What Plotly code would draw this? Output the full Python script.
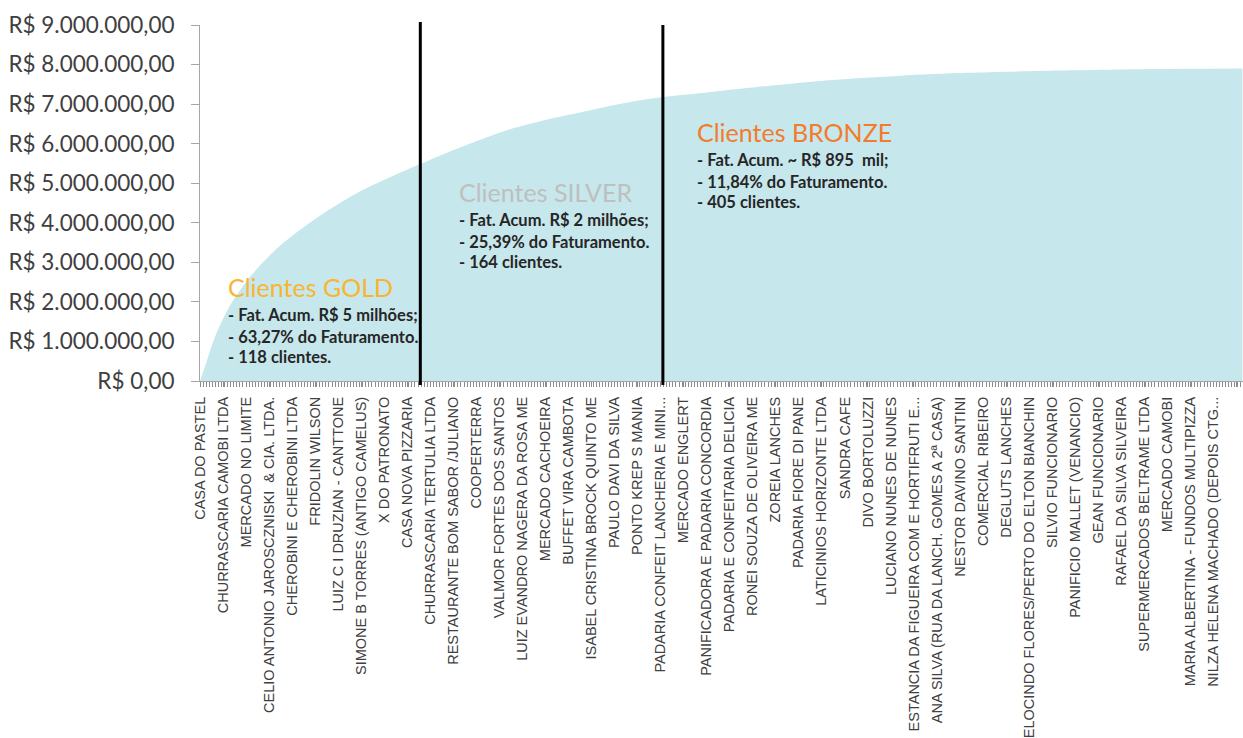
import plotly.graph_objects as go

# ---- data ----
# client rank (0-based, sorted by revenue) and cumulative revenue (R$)
client_rank = [0, 4, 10, 19, 30, 41, 51, 62, 84, 106, 127, 142, 162, 184, 205, 227,
               249, 270, 292, 314, 329, 370, 412, 456, 500, 560, 625, 679]
cum_revenue = [0, 455000, 1140000, 1870000, 2500000, 3000000, 3380000, 3730000,
               4330000, 4830000, 5210000, 5460000, 5790000, 6120000, 6400000, 6620000,
               6800000, 6980000, 7130000, 7230000, 7290000, 7460000, 7610000, 7720000,
               7790000, 7850000, 7890000, 7900000]

client_names = [
    "CASA DO PASTEL", "CHURRASCARIA CAMOBI LTDA", "MERCADO NO LIMITE",
    "CELIO ANTONIO JAROSCZNISKI  & CIA. LTDA.", "CHEROBINI E CHEROBINI LTDA",
    "FRIDOLIN WILSON", "LUIZ C I DRUZIAN - CANTTONE", "SIMONE B TORRES (ANTIGO CAMELUS)",
    "X DO PATRONATO", "CASA NOVA PIZZARIA", "CHURRASCARIA TERTULIA LTDA",
    "RESTAURANTE BOM SABOR /JULIANO", "COOPERTERRA", "VALMOR FORTES DOS SANTOS",
    "LUIZ EVANDRO NAGERA DA ROSA ME", "MERCADO CACHOEIRA", "BUFFET VIRA CAMBOTA",
    "ISABEL CRISTINA BROCK QUINTO ME", "PAULO DAVI DA SILVA", "PONTO KREP S MANIA",
    "PADARIA CONFEIT LANCHERIA E MINI...", "MERCADO ENGLERT",
    "PANIFICADORA E PADARIA CONCORDIA", "PADARIA E CONFEITARIA DELICIA",
    "RONEI SOUZA DE OLIVEIRA ME", "ZOREIA LANCHES", "PADARIA FIORE DI PANE",
    "LATICINIOS HORIZONTE LTDA", "SANDRA CAFE", "DIVO BORTOLUZZI",
    "LUCIANO NUNES DE NUNES", "ESTANCIA DA FIGUEIRA COM E HORTIFRUTI E...",
    "ANA SILVA (RUA DA LANCH. GOMES A 2ª CASA)", "NESTOR DAVINO SANTINI",
    "COMERCIAL RIBEIRO", "DEGLUTS LANCHES", "VELOCINDO FLORES/PERTO DO ELTON BIANCHIN",
    "SILVIO FUNCIONARIO", "PANIFICIO MALLET (VENANCIO)", "GEAN FUNCIONARIO",
    "RAFAEL DA SILVA SILVEIRA", "SUPERMERCADOS BELTRAME LTDA", "MERCADO CAMOBI",
    "MARIA ALBERTINA - FUNDOS MULTIPIZZA", "NILZA HELENA MACHADO (DEPOIS CTG...",
    "IGREJA DORES",
]
label_step = 15  # one name shown every 15 clients
name_ranks = [i * label_step for i in range(len(client_names))]

y_tick_values = [0, 1e6, 2e6, 3e6, 4e6, 5e6, 6e6, 7e6, 8e6, 9e6]
y_tick_text = ["R$ 0,00", "R$ 1.000.000,00", "R$ 2.000.000,00", "R$ 3.000.000,00",
               "R$ 4.000.000,00", "R$ 5.000.000,00", "R$ 6.000.000,00",
               "R$ 7.000.000,00", "R$ 8.000.000,00", "R$ 9.000.000,00"]

segment_limits = [143.5, 301.5]  # GOLD | SILVER | BRONZE boundaries (client rank)

groups = [
    ("Clientes GOLD", "#F9B531",
     ["- Fat. Acum. R$ 5 milhões;", "- 63,27% do Faturamento.", "- 118 clientes."]),
    ("Clientes SILVER", "#BFBFBF",
     ["- Fat. Acum. R$ 2 milhões;", "- 25,39% do Faturamento.", "- 164 clientes."]),
    ("Clientes BRONZE", "#F47B2C",
     ["- Fat. Acum. ~ R$ 895  mil;", "- 11,84% do Faturamento.", "- 405 clientes."]),
]

# ---- layout helpers (pixel positions -> paper) ----
W, H = 1243, 738
PL, PR, PT, PB = 199.5, 1243, 25, 381


def px(x):
    return (x - PL) / (PR - PL)


def py(y):
    return (PB - y) / (PB - PT)


group_pos = [  # left x, title y, line ys (pixels)
    (226, 287, [315, 337, 357]),
    (457, 192, [220, 242, 262]),
    (695, 132, [160, 182, 202]),
]

fig = go.Figure()
fig.add_trace(go.Scatter(
    x=client_rank, y=cum_revenue, mode="lines",
    line=dict(width=0, shape="spline", smoothing=0.8, color="#C6E7EC"),
    fill="tozeroy", fillcolor="#C6E7EC", hoverinfo="skip", showlegend=False,
))

annotations = []
for (title, color, lines), (gx, ty, lys) in zip(groups, group_pos):
    annotations.append(dict(
        text=title, x=px(gx), y=py(ty), xref="paper", yref="paper",
        xanchor="left", yanchor="middle", showarrow=False,
        font=dict(family="Lato", size=25, color=color),
    ))
    for t, ly in zip(lines, lys):
        annotations.append(dict(
            text="<b>" + t + "</b>", x=px(gx), y=py(ly), xref="paper", yref="paper",
            xanchor="left", yanchor="middle", showarrow=False,
            font=dict(family="Lato", size=16.5, color="#262626"),
        ))

shapes = []
for lim, top in zip(segment_limits, [py(22), py(25)]):
    shapes.append(dict(type="line", xref="x", yref="paper", x0=lim, x1=lim,
                       y0=py(385), y1=top, line=dict(color="#000000", width=3)))

fig.update_layout(
    width=W, height=H,
    margin=dict(l=PL, r=W - PR, t=PT, b=H - PB),
    paper_bgcolor="white", plot_bgcolor="white",
    annotations=annotations, shapes=shapes,
    xaxis=dict(
        automargin=False,
        range=[0, (PR - PL) / (23.04 / label_step)],
        tickmode="array", tickvals=name_ranks, ticktext=client_names,
        tickangle=-90, tickfont=dict(family="Liberation Sans Narrow, Arial Narrow, sans-serif",
                                     size=14.5, color="#404040"),
        showgrid=False, zeroline=False, showline=True, linecolor="#A6A6A6", linewidth=1,
        ticks="outside", ticklen=5, tickcolor="#8C8C8C", ticklabelstandoff=4,
        minor=dict(dtick=2, tick0=0, ticks="outside", ticklen=5, tickcolor="#8C8C8C",
                   showgrid=False),
    ),
    yaxis=dict(
        automargin=False,
        range=[0, 9e6], tickmode="array", tickvals=y_tick_values, ticktext=y_tick_text,
        tickfont=dict(family="Lato", size=22.5, color="#404040"),
        showgrid=False, zeroline=False, showline=True, linecolor="#A6A6A6", linewidth=1,
        ticks="outside", ticklen=8, tickcolor="#A6A6A6", ticklabelstandoff=12,
    ),
)

fig.write_html("out.html")
